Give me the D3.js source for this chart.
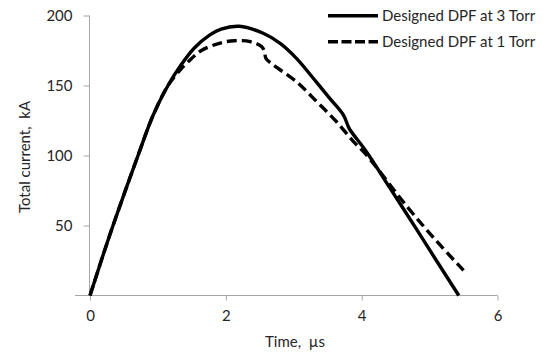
<!DOCTYPE html>
<html><head><meta charset="utf-8">
<script src="https://cdn.jsdelivr.net/npm/d3@7"></script>
<style>body{margin:0;background:#fff;} text{font-family:Lato, "Liberation Sans", sans-serif;}</style>
</head><body><svg id="c" width="552" height="354"></svg>
<script>
const t3 = [0,0.17,0.339,0.707,0.928,1.148,1.345,1.54,1.76,1.93,2.2,2.55,2.80,3.04,3.29,3.53,3.73,3.80,3.83,4.07,4.42,4.8,5.1,5.43];
const i3 = [0,25.5,50,100,128.6,150,165,177,186,190.3,192.3,187.3,180.1,169.4,155,140.8,129,121,118.2,102.7,76.5,48,25,0];
const t1 = [0,0.17,0.339,0.707,0.928,1.148,1.32,1.44,1.64,1.93,2.13,2.36,2.53,2.57,2.59,2.70,3.04,3.34,3.63,3.88,4.07,4.66,5.1,5.5];
const i1 = [0,25.5,50,100,128.6,150,160.7,166.7,175,180.5,182,181.3,177.7,174,169.4,164.6,152.7,138.4,124.1,109.9,100.4,64,39,18];
const xTicks = [0,2,4,6];
const yTicks = [50,100,150,200];
const seriesNames = ["Designed DPF at 3 Torr","Designed DPF at 1 Torr"];

const svg = d3.select("#c");
const x = d3.scaleLinear().domain([0,6]).range([90,497.5]);
const y = d3.scaleLinear().domain([0,200]).range([295.5,15.5]);
const axisCol = "#a6a6a6", txtCol = "#262626";

const gx = svg.append("g").attr("transform","translate(0,295.5)")
  .call(d3.axisBottom(x).tickValues(xTicks).tickFormat(d3.format("d")).tickSize(5).tickSizeOuter(0).tickPadding(10));
const gy = svg.append("g").attr("transform","translate(89.5,0)")
  .call(d3.axisLeft(y).tickValues(yTicks).tickFormat(d3.format("d")).tickSize(6).tickSizeOuter(0).tickPadding(11));
[gx,gy].forEach(g=>{
  g.selectAll("path,line").attr("stroke",axisCol).attr("stroke-width",1);
  g.selectAll("text").attr("fill",txtCol).style("font-size","15px").style("font-family","Lato");
});
gx.select(".domain").attr("d",`M${x(0)-15},0H${x(6)}`);
gy.select(".domain").attr("d",`M0,${y(0)}V${y(200)}`);

const line = d3.line().x(d=>x(d[0])).y(d=>y(d[1])).curve(d3.curveCatmullRom.alpha(0.5));
const d3s = t3.map((t,k)=>[t,i3[k]]);
const d1s = t1.map((t,k)=>[t,i1[k]]);
svg.append("path").attr("d",line(d3s)).attr("fill","none").attr("stroke","#000").attr("stroke-width",3.4);
svg.append("path").attr("d",line(d1s)).attr("fill","none").attr("stroke","#000").attr("stroke-width",3.4).attr("stroke-dasharray","10,5");

svg.append("text").attr("x",295).attr("y",347).attr("text-anchor","middle").attr("fill",txtCol)
  .style("font-size","15px").style("white-space","pre").text("Time,  µs");
svg.append("text").attr("transform","translate(30,157) rotate(-90)").attr("text-anchor","middle").attr("fill",txtCol)
  .style("font-size","15px").style("white-space","pre").text("Total current,  kA");

const leg = svg.append("g");
seriesNames.forEach((n,k)=>{
  const yy = 15.7 + k*26;
  leg.append("line").attr("x1",328).attr("x2",378).attr("y1",yy).attr("y2",yy)
    .attr("stroke","#000").attr("stroke-width",3.5).attr("stroke-dasharray",k? "10,3.5":null);
  leg.append("text").attr("x",382).attr("y",yy+5).attr("fill",txtCol).style("font-size","15px").text(n);
});
</script></body></html>
